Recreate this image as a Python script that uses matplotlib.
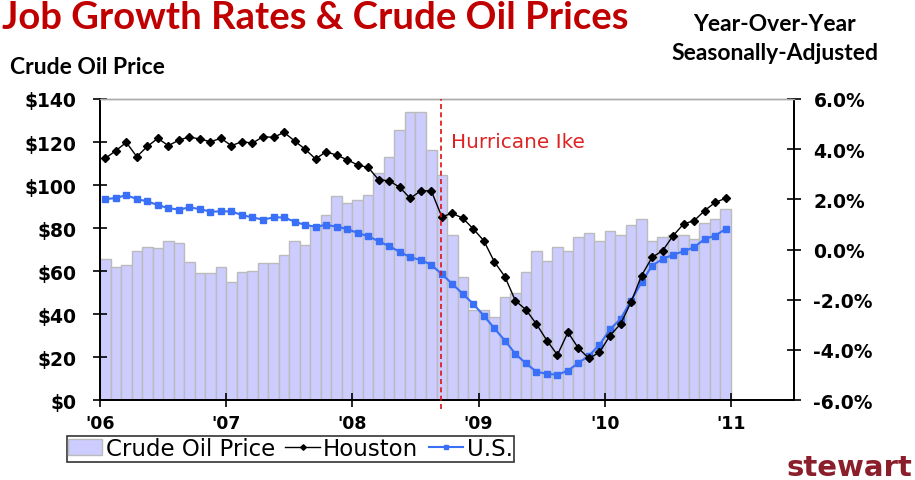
import matplotlib.pyplot as plt
import numpy as np

# monthly data, Jan 2006 - Dec 2010
oil_price = [65.6, 61.7, 62.8, 69.2, 71.0, 70.7, 73.8, 73.0, 64.0, 59.0, 59.0, 61.7,
             54.7, 59.4, 60.2, 63.7, 63.7, 67.6, 73.8, 72.1, 80.8, 86.0, 95.0, 91.6,
             93.2, 95.3, 105.4, 112.9, 125.7, 134.0, 134.0, 116.4, 104.7, 76.9, 57.4, 41.9,
             41.9, 38.7, 47.8, 50.0, 59.4, 69.4, 64.8, 71.3, 69.4, 75.9, 77.7, 74.1,
             78.7, 76.9, 81.4, 84.2, 73.8, 75.9, 76.9, 76.9, 74.9, 82.2, 84.2, 88.8]

houston = [3.63, 3.94, 4.27, 3.70, 4.11, 4.43, 4.14, 4.36, 4.49, 4.40, 4.30, 4.43,
           4.14, 4.30, 4.24, 4.50, 4.47, 4.67, 4.33, 4.00, 3.61, 3.90, 3.76, 3.58,
           3.37, 3.27, 2.78, 2.74, 2.48, 2.04, 2.34, 2.34, 1.31, 1.44, 1.25, 0.82,
           0.35, -0.49, -1.08, -2.04, -2.40, -2.97, -3.63, -4.20, -3.30, -3.94, -4.34, -4.10,
           -3.43, -2.97, -2.10, -1.04, -0.31, -0.05, 0.55, 1.02, 1.15, 1.55, 1.88, 2.04]

us = [2.01, 2.05, 2.17, 2.01, 1.92, 1.77, 1.65, 1.59, 1.68, 1.61, 1.51, 1.52,
      1.52, 1.37, 1.28, 1.19, 1.28, 1.28, 1.11, 0.98, 0.91, 0.98, 0.91, 0.82,
      0.66, 0.53, 0.33, 0.13, -0.09, -0.31, -0.42, -0.61, -0.98, -1.37, -1.77, -2.17,
      -2.64, -3.14, -3.63, -4.16, -4.54, -4.87, -4.96, -4.99, -4.83, -4.52, -4.23, -3.80,
      -3.18, -2.77, -2.04, -1.31, -0.64, -0.38, -0.21, -0.07, 0.09, 0.42, 0.55, 0.82]

year_labels = ["'06", "'07", "'08", "'09", "'10", "'11"]
price_ticks = [0, 20, 40, 60, 80, 100, 120, 140]
pct_ticks = [-6, -4, -2, 0, 2, 4, 6]
ike_month = 32.45  # Sep 13, 2008

months = np.arange(len(oil_price)) + 0.5

fig = plt.figure(figsize=(9.15, 4.81), dpi=100)
ax = fig.add_axes([0.1093, 0.1663, 0.7585, 0.6258])
ax2 = ax.twinx()

ax.bar(months, oil_price, width=1.0, color='#CCCCFF', edgecolor='#BBBBBB',
       linewidth=1.0, label='Crude Oil Price', zorder=1)

ax2.plot(months, houston, color='black', linewidth=1.0, marker='D', markersize=4,
         label='Houston', zorder=4)
ax2.plot(months, us, color='#3A6FF7', linewidth=1.5, marker='s', markersize=4,
         label='U.S.', zorder=3)

ax2.axvline(ike_month, ymin=-0.03, ymax=1, color='#DD1111', linestyle=(0, (3, 2)),
            linewidth=1.2, clip_on=False, zorder=5)
ax2.text(ike_month + 0.9, 4.3, 'Hurricane Ike', color='#DD2222', fontsize=14.4,
         ha='left', va='center', family='DejaVu Sans')

ax.set_xlim(0, 66)
ax.set_ylim(0, 140)
ax2.set_ylim(-6, 6)

ax.set_xticks(np.arange(0, 61, 12))
ax.set_xticklabels(year_labels, fontsize=12.5, fontweight='bold')
ax.set_yticks(price_ticks)
ax.set_yticklabels(['$%d' % v for v in price_ticks], fontsize=13.5, fontweight='bold')
ax2.set_yticks(pct_ticks)
ax2.set_yticklabels(['%.1f%%' % v for v in pct_ticks], fontsize=13.5, fontweight='bold')

ax.tick_params(axis='x', direction='inout', length=10, width=1.2, pad=5)
ax.tick_params(axis='y', direction='inout', length=10, width=1.2, pad=12)
ax2.tick_params(axis='y', direction='inout', length=10, width=1.2, pad=9)

for a in (ax, ax2):
    for side in ('left', 'bottom', 'right'):
        a.spines[side].set_color('black')
        a.spines[side].set_linewidth(1.3)
    a.spines['top'].set_color('#AAAAAA')
    a.spines['top'].set_linewidth(1.0)

# legend
h1, l1 = ax.get_legend_handles_labels()
h2, l2 = ax2.get_legend_handles_labels()
leg = fig.legend(h1 + h2, l1 + l2, loc='upper left', bbox_to_anchor=(0.073, 0.091),
                 ncol=3, fontsize=16.5, frameon=True, fancybox=False,
                 handlelength=1.5, handletextpad=0.15, columnspacing=0.45,
                 borderpad=0.05, borderaxespad=0, markerscale=0.7)
leg.get_frame().set_edgecolor('black')
leg.get_frame().set_linewidth(1.2)

# titles and labels
fig.text(0.002, 0.998, 'Job Growth Rates & Crude Oil Prices', color='#C00000',
         fontsize=27.5, fontweight='bold', family='Lato', ha='left', va='top')
fig.text(0.847, 0.95, 'Year-Over-Year', fontsize=16.5, fontweight='bold', family='Lato',
         ha='center', va='center')
fig.text(0.847, 0.888, 'Seasonally-Adjusted', fontsize=16.5, fontweight='bold', family='Lato',
         ha='center', va='center')
fig.text(0.011, 0.86, 'Crude Oil Price', fontsize=16.5, fontweight='bold', family='Lato',
         ha='left', va='center')
fig.text(0.997, 0.027, 'stewart', color='#8B1E2B', fontsize=21, fontweight='bold',
         ha='right', va='center')

fig.savefig('out.png', dpi=100)
